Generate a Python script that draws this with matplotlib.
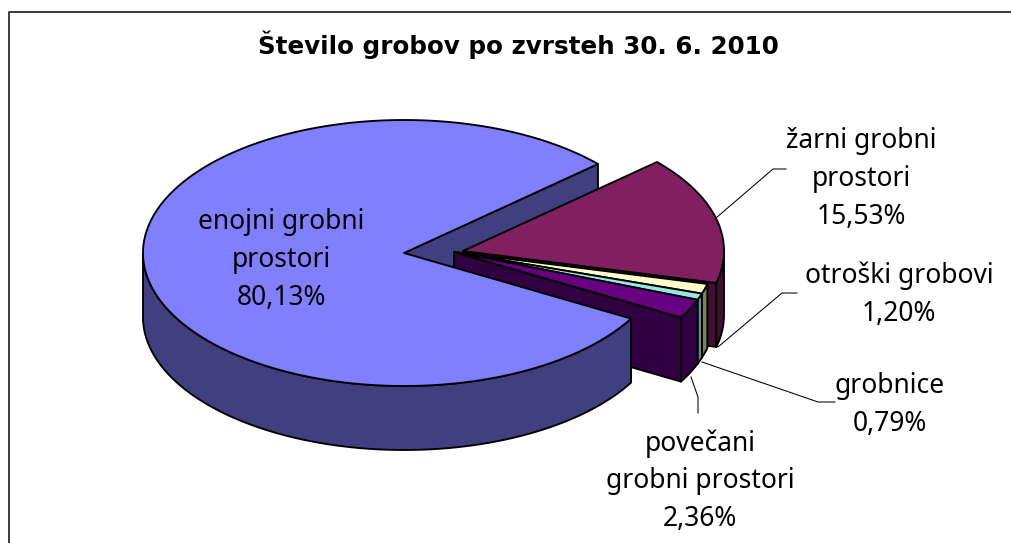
import numpy as np
import matplotlib
matplotlib.use("Agg")
import matplotlib.pyplot as plt
from matplotlib.patches import Polygon

# Data, in drawing order clockwise from the start angle
categories = ["žarni grobni\nprostori", "otroški grobovi", "grobnice",
              "povečani\ngrobni prostori", "enojni grobni\nprostori"]
values = [15.53, 1.20, 0.79, 2.36, 80.13]
value_labels = ["15,53%", "1,20%", "0,79%", "2,36%", "80,13%"]
title = "Število grobov po zvrsteh 30. 6. 2010"

top_colors = ["#802060", "#FFFFCC", "#99E6E6", "#660080", "#8080FF"]
side_colors = ["#401030", "#808066", "#5F8F8F", "#300040", "#404080"]
apex_x = [463, 454, 454, 454, 404]
apex_y = [251, 252, 252, 252, 253]
label_x = [861, 899, 890, 700, 281]
label_y = [179, 295, 405, 481, 260]
leaders_x = [[716, 773, 786], [718, 782, 797], [702, 818, 835], [691, 698, 698]]
leaders_y = [[218, 169, 169], [347, 293, 293], [362, 402, 402], [377, 397, 413]]

START = 42.0
RX, RY, DEPTH = 261, 133, 64
LW = 1.35
FONT = ["Noto Sans", "DejaVu Sans"]

fig = plt.figure(figsize=(10.12, 5.43), dpi=100)
ax = fig.add_axes([0, 0, 1, 1])
ax.set_xlim(0, 1012)
ax.set_ylim(543, 0)
ax.axis("off")

# chart frame: the reference shows only its left and top sides
ax.plot([9, 9, 1012], [543, 12, 12], color="#404040", lw=1.45, zorder=1)

total = sum(values)
edges = START - np.cumsum([0] + values) * 360.0 / total


def rim(i, a0, a1):
    t = np.radians(np.linspace(a0, a1, max(int(abs(a1 - a0)) * 2, 2) + 1))
    return apex_x[i] + RX * np.cos(t), apex_y[i] - RY * np.sin(t)


def poly(x, y, color, z):
    ax.add_patch(Polygon(np.column_stack([x, y]), closed=True, facecolor=color,
                         edgecolor="black", lw=LW, joinstyle="round", zorder=z))


def side(i, a0, a1, z):
    x, y = rim(i, a0, a1)
    poly(np.r_[x, x[::-1]], np.r_[y, y[::-1] + DEPTH], side_colors[i], z)


def wall(i, a, z):
    x, y = rim(i, a, a)
    x, y = x[0], y[0]
    ax_, ay_ = apex_x[i], apex_y[i]
    poly([ax_, x, x, ax_], [ay_, y, y + DEPTH, ay_ + DEPTH], side_colors[i], z)


def top(i, a0, a1, z):
    x, y = rim(i, a0, a1)
    poly(np.r_[apex_x[i], x], np.r_[apex_y[i], y], top_colors[i], z)


z = 2
# upper cut face of the big slice lies behind everything else
wall(4, START, z)
z += 1
for i in range(4):
    a0, a1 = edges[i], edges[i + 1]
    wall(i, a1, z); z += 1
    side(i, min(a0, 0), a1, z); z += 1
    top(i, a0, a1, z); z += 1
# big slice in front: only its lower rim shows
side(4, edges[4], -180, z); z += 1
top(4, edges[4], edges[5], z)

for lx, ly in zip(leaders_x, leaders_y):
    ax.plot(lx, ly, color="black", lw=0.75, zorder=1.5)

ax.text(518, 45, title, ha="center", va="center", fontsize=17.7,
        fontweight="bold", family="DejaVu Sans", color="black")
for c, v, x, y in zip(categories, value_labels, label_x, label_y):
    ax.text(x, y, c + "\n" + v, ha="center", va="center", fontsize=19,
            family=FONT, color="black", linespacing=1.46, zorder=100)

fig.savefig("out.png", dpi=100)
